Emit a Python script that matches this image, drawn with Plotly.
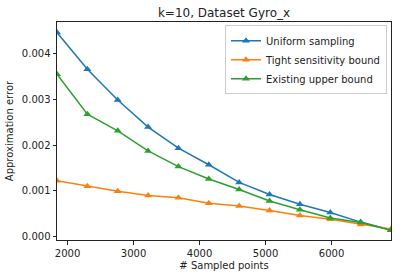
import plotly.graph_objects as go

x_points = [1840, 2300, 2760, 3220, 3680, 4140, 4600, 5060, 5520, 5980, 6440, 6900]
uniform = [4.45e-3, 3.65e-3, 2.98e-3, 2.39e-3, 1.93e-3, 1.57e-3, 1.185e-3, 0.92e-3, 0.71e-3, 0.53e-3, 0.32e-3, 0.15e-3]
tight = [1.22e-3, 1.10e-3, 0.99e-3, 0.90e-3, 0.85e-3, 0.73e-3, 0.67e-3, 0.575e-3, 0.465e-3, 0.38e-3, 0.27e-3, 0.17e-3]
existing = [3.54e-3, 2.67e-3, 2.31e-3, 1.87e-3, 1.53e-3, 1.26e-3, 1.03e-3, 0.78e-3, 0.59e-3, 0.41e-3, 0.31e-3, 0.14e-3]
names = ["Uniform sampling", "Tight sensitivity bound", "Existing upper bound"]
colors = ["#1f77b4", "#ff7f0e", "#2ca02c"]

fig = go.Figure()
for name, ys, c in zip(names, [uniform, tight, existing], colors):
    fig.add_trace(go.Scatter(x=x_points, y=ys, name=name, mode="lines+markers",
                             line=dict(color=c, width=1.5),
                             marker=dict(symbol="triangle-up", size=7, color=c)))

font = dict(family="DejaVu Sans", size=10, color="#222")
axis = dict(showgrid=False, zeroline=False, showline=True, linecolor="#222", linewidth=1,
            mirror=True, ticks="outside", ticklen=3.5, tickcolor="#222", tickfont=font,
            automargin=False)
fig.update_layout(
    width=402, height=278,
    margin=dict(l=57, r=11, t=22, b=38),
    paper_bgcolor="white", plot_bgcolor="white",
    title=dict(text="k=10, Dataset Gyro_x", x=0.5, xref="paper", y=0.955, yanchor="middle",
               font=dict(family="DejaVu Sans", size=12, color="#222")),
    xaxis=dict(axis, range=[1840, 6900], tickvals=[2000, 3000, 4000, 5000, 6000],
               title=dict(text="# Sampled points", font=font, standoff=4)),
    yaxis=dict(axis, range=[-0.00007, 0.00468], tickvals=[0, 0.001, 0.002, 0.003, 0.004],
               tickformat=".3f", title=dict(text="Approximation error", font=font, standoff=6)),
    legend=dict(x=0.988, y=0.985, xanchor="right", yanchor="top", font=font,
                bgcolor="rgba(255,255,255,0.8)", bordercolor="#ccc", borderwidth=1,
                tracegroupgap=0, itemwidth=30),
    showlegend=True,
)
fig.write_html("out.html", config={"displayModeBar": False},
               post_script="document.body.style.margin='0';")
